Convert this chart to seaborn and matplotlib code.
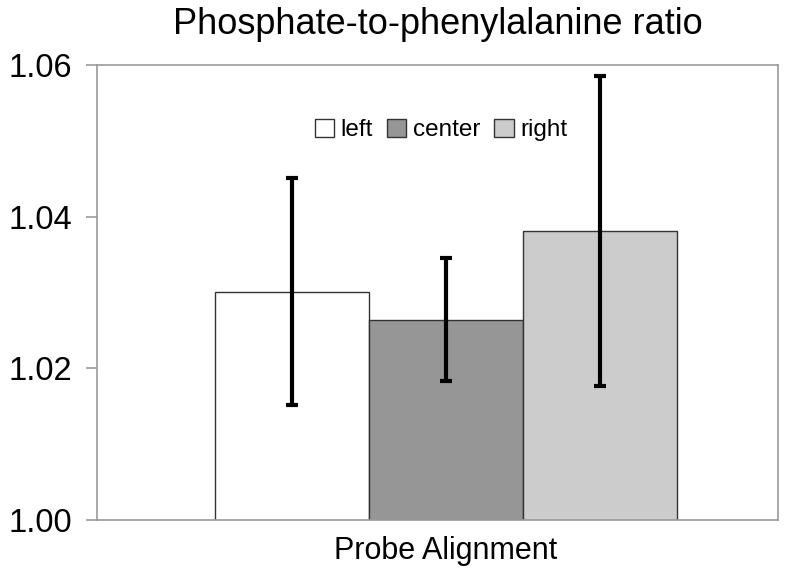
import numpy as np
import pandas as pd
import matplotlib
matplotlib.use("Agg")
import matplotlib.pyplot as plt
import seaborn as sns

# values
category = ["Probe Alignment"]
positions = ["left", "center", "right"]
ratio = [1.0301, 1.0264, 1.0381]
ratio_err = [0.0150, 0.0081, 0.0204]
bar_colors = ["#ffffff", "#969696", "#cccccc"]
y_ticks = [1.00, 1.02, 1.04, 1.06]

df = pd.DataFrame({
    "group": category * len(positions),
    "position": positions,
    "ratio": ratio,
})

sns.set_style("white")
plt.rcParams["font.family"] = ["Liberation Sans", "DejaVu Sans"]
plt.rcParams["text.color"] = "black"
plt.rcParams["axes.labelcolor"] = "black"
plt.rcParams["ytick.labelcolor"] = "black"

fig = plt.figure(figsize=(8, 5.76), dpi=100)
ax = fig.add_axes([0.121, 0.0972, 0.8515, 0.79])

sns.barplot(data=df, x="group", y="ratio", hue="position",
            hue_order=positions, palette=bar_colors, errorbar=None,
            edgecolor="#333333", linewidth=1.0, width=0.8, ax=ax)

# custom error bars at bar centres
bars = [p for p in ax.patches if p.get_height() > 0][:len(positions)]
xs = [b.get_x() + b.get_width() / 2 for b in bars]
ax.errorbar(xs, ratio, yerr=ratio_err, fmt="none", ecolor="black",
            elinewidth=3, capsize=4, capthick=3)

ax.set_ylim(1.00, 1.06)
ax.set_xlim(-0.604, 0.575)
ax.set_yticks(y_ticks)
ax.set_yticklabels([f"{t:.2f}" for t in y_ticks], fontsize=23.5, color="black")
ax.set_xticks([])
ax.set_ylabel("")
ax.set_xlabel("Probe Alignment", fontsize=22, labelpad=9, color="black")
ax.xaxis.set_label_coords(0.512, -0.035)
ax.xaxis.label.set_va("top")
ax.set_title("Phosphate-to-phenylalanine ratio", fontsize=26, pad=22, color="black")

for s in ax.spines.values():
    s.set_color("#999999")
    s.set_linewidth(1.2)
ax.tick_params(axis="y", left=True, length=8, width=1.2, color="#999999", pad=10)

leg = ax.legend(loc="center", bbox_to_anchor=(0.505, 0.857), ncol=3,
                frameon=False, fontsize=17.5, handlelength=0.8, handleheight=0.8,
                handletextpad=0.25, columnspacing=0.6)

fig.savefig("out.png", dpi=100)
